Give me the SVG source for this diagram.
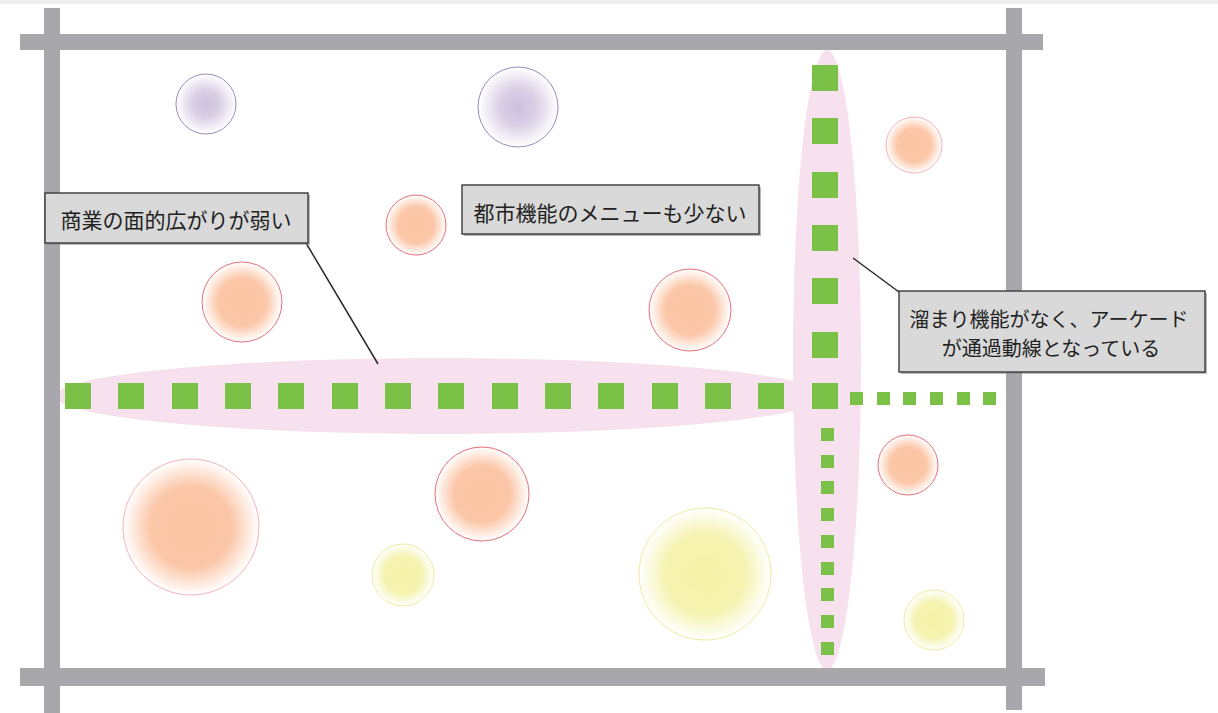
<svg xmlns="http://www.w3.org/2000/svg" width="1218" height="713" viewBox="0 0 1218 713">
<defs>
<radialGradient id="gOr"><stop offset="0" stop-color="#fbc4a2"/><stop offset="0.6" stop-color="#fbc7a8"/><stop offset="1" stop-color="#ffffff"/></radialGradient>
<radialGradient id="gPu"><stop offset="0" stop-color="#cdbfdd"/><stop offset="0.45" stop-color="#d9cfe6"/><stop offset="1" stop-color="#ffffff"/></radialGradient>
<radialGradient id="gYe"><stop offset="0" stop-color="#f4f2a6"/><stop offset="0.6" stop-color="#f5f3b0"/><stop offset="1" stop-color="#ffffff"/></radialGradient>
<style>
.road{fill:#a8a7ac}
.zone{fill:#f7e1ee}
.sq{fill:#7bc148}
.or{fill:url(#gOr);stroke:#e0606e;stroke-width:0.9}
.orl{fill:url(#gOr);stroke:#eea0ac;stroke-width:0.8}
.pu{fill:url(#gPu);stroke:#8f7bb2;stroke-width:0.9}
.ye{fill:url(#gYe);stroke:#efeaa0;stroke-width:1}
.box{fill:#d9d9d9;stroke:#3a3a3a;stroke-width:1.4}
.shadow{fill:#8a8a8a;opacity:0.6}
.lbl{font-family:"Noto Sans CJK JP","Noto Sans",sans-serif;fill:#222}
.lead{stroke:#2a2a2a;stroke-width:1.5;fill:none}
</style>
</defs>
<rect x="0" y="0" width="1218" height="713" fill="#ffffff"/>
<rect x="0" y="0" width="1218" height="4" fill="#eeeeee"/>

<g id="zones">
<ellipse class="zone" cx="440" cy="396" rx="385" ry="38"/>
<ellipse class="zone" cx="827" cy="360" rx="34" ry="310"/>
</g>

<g id="roads">
<rect class="road" x="20" y="34" width="1023" height="16"/>
<rect class="road" x="20" y="668" width="1025" height="18"/>
<rect class="road" x="44" y="8" width="16" height="705"/>
<rect class="road" x="1006" y="8" width="16" height="702"/>
</g>

<g id="circles">
<g id="c1"><circle class="pu" cx="206" cy="104" r="30"/></g>
<g id="c2"><circle class="pu" cx="518" cy="107" r="40"/></g>
<g id="c3"><circle class="or" cx="416" cy="225" r="30"/></g>
<g id="c4"><circle class="or" cx="242" cy="302" r="40"/></g>
<g id="c5"><circle class="or" cx="690" cy="310" r="41"/></g>
<g id="c6"><circle class="orl" cx="914" cy="145" r="28"/></g>
<g id="c7"><circle class="orl" cx="191" cy="527" r="68"/></g>
<g id="c8"><circle class="or" cx="482" cy="494" r="47"/></g>
<g id="c9"><circle class="or" cx="908" cy="465" r="30"/></g>
<g id="c10"><circle class="ye" cx="403" cy="575" r="31"/></g>
<g id="c11"><circle class="ye" cx="705" cy="574" r="66"/></g>
<g id="c12"><circle class="ye" cx="934" cy="620" r="30"/></g>
</g>

<g id="path-horizontal">
<rect class="sq" x="65" y="383" width="26" height="26"/>
<rect class="sq" x="118" y="383" width="26" height="26"/>
<rect class="sq" x="172" y="383" width="26" height="26"/>
<rect class="sq" x="225" y="383" width="26" height="26"/>
<rect class="sq" x="278" y="383" width="26" height="26"/>
<rect class="sq" x="332" y="383" width="26" height="26"/>
<rect class="sq" x="385" y="383" width="26" height="26"/>
<rect class="sq" x="438" y="383" width="26" height="26"/>
<rect class="sq" x="492" y="383" width="26" height="26"/>
<rect class="sq" x="545" y="383" width="26" height="26"/>
<rect class="sq" x="598" y="383" width="26" height="26"/>
<rect class="sq" x="652" y="383" width="26" height="26"/>
<rect class="sq" x="705" y="383" width="26" height="26"/>
<rect class="sq" x="758" y="383" width="26" height="26"/>
<rect class="sq" x="812" y="383" width="26" height="26"/>
</g>

<g id="path-vertical">
<rect class="sq" x="812" y="65" width="26" height="26"/>
<rect class="sq" x="812" y="118" width="26" height="26"/>
<rect class="sq" x="812" y="172" width="26" height="26"/>
<rect class="sq" x="812" y="225" width="26" height="26"/>
<rect class="sq" x="812" y="278" width="26" height="26"/>
<rect class="sq" x="812" y="332" width="26" height="26"/>
</g>

<g id="path-east">
<rect class="sq" x="850" y="392" width="13" height="13"/>
<rect class="sq" x="877" y="392" width="13" height="13"/>
<rect class="sq" x="903" y="392" width="13" height="13"/>
<rect class="sq" x="930" y="392" width="13" height="13"/>
<rect class="sq" x="957" y="392" width="13" height="13"/>
<rect class="sq" x="983" y="392" width="13" height="13"/>
</g>

<g id="path-south">
<rect class="sq" x="821" y="428" width="13" height="13"/>
<rect class="sq" x="821" y="455" width="13" height="13"/>
<rect class="sq" x="821" y="481" width="13" height="13"/>
<rect class="sq" x="821" y="508" width="13" height="13"/>
<rect class="sq" x="821" y="535" width="13" height="13"/>
<rect class="sq" x="821" y="562" width="13" height="13"/>
<rect class="sq" x="821" y="588" width="13" height="13"/>
<rect class="sq" x="821" y="615" width="13" height="13"/>
<rect class="sq" x="821" y="642" width="13" height="13"/>
</g>

<g id="connectors">
<line class="lead" x1="306" y1="243" x2="378" y2="364"/>
<line class="lead" x1="853" y1="258" x2="899" y2="292"/>
</g>

<g id="label-commerce">
<rect class="shadow" x="47" y="195" width="263" height="50"/>
<rect class="box" x="45" y="193" width="263" height="50"/>
<text class="lbl" x="176" y="228" font-size="21" text-anchor="middle">商業の面的広がりが弱い</text>
</g>

<g id="label-menu">
<rect class="shadow" x="464" y="187" width="297" height="49"/>
<rect class="box" x="462" y="185" width="297" height="49"/>
<text class="lbl" x="610" y="221" font-size="21" text-anchor="middle" fill="#333">都市機能のメニューも少ない</text>
</g>

<g id="label-arcade">
<rect class="shadow" x="901" y="293" width="306" height="81"/>
<rect class="box" x="899" y="291" width="306" height="81"/>
<text class="lbl" x="1049" y="327" font-size="20" text-anchor="middle">溜まり機能がなく、アーケード</text>
<text class="lbl" x="1051" y="356" font-size="20" text-anchor="middle">が通過動線となっている</text>
</g>
</svg>
